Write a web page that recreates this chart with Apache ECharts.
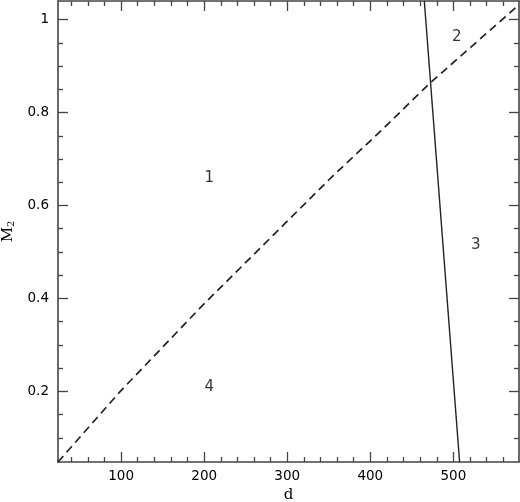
<!DOCTYPE html>
<html>
<head>
<meta charset="utf-8">
<script src="https://cdn.jsdelivr.net/npm/echarts@6/dist/echarts.min.js"></script>
<style>
html,body{margin:0;padding:0;background:#fff;}
#chart{width:520px;height:502px;}
</style>
</head>
<body>
<div id="chart"></div>
<script>
// ---- data ----
const dashD = [24, 99, 198, 354, 413, 471, 579];
const dashM = [0.048, 0.2, 0.385, 0.662, 0.761, 0.862, 1.032];
const solidD = [465, 507.5];
const solidM = [1.04, 0.048];
const regionNames = ['1', '2', '3', '4'];
const regionD = [206, 504, 527, 206];
const regionM = [0.658, 0.962, 0.514, 0.21];
// ---- axis ticks ----
const xMajor = [100, 200, 300, 400, 500];
const xMinor = [40, 60, 80, 120, 140, 160, 180, 220, 240, 260, 280, 320, 340, 360, 380, 420, 440, 460, 480, 520, 540, 560];
const yMajor = [0.2, 0.4, 0.6, 0.8, 1];
const yMinor = [0.1, 0.15, 0.25, 0.3, 0.35, 0.45, 0.5, 0.55, 0.65, 0.7, 0.75, 0.85, 0.9, 0.95];
const xRange = [24, 579];
const yRange = [0.048, 1.04];

const axisColor = '#444';
const font = 'DejaVu Sans';

function xAx(pos, ticks, len, showLine, labels, extra) {
  return Object.assign({
    type: 'value', position: pos, min: xRange[0], max: xRange[1],
    axisLine: {show: showLine, onZero: false, lineStyle: {color: axisColor, width: 1.6}},
    axisTick: {show: true, inside: true, length: len, customValues: ticks, lineStyle: {color: axisColor, width: 1.3}},
    axisLabel: labels ? {show: true, customValues: ticks, margin: 7, color: '#000', fontSize: 13.5, fontFamily: font} : {show: false},
    splitLine: {show: false}
  }, extra || {});
}
function yAx(pos, ticks, len, showLine, labels, extra) {
  return Object.assign({
    type: 'value', position: pos, min: yRange[0], max: yRange[1],
    axisLine: {show: showLine, onZero: false, lineStyle: {color: axisColor, width: 1.6}},
    axisTick: {show: true, inside: true, length: len, customValues: ticks, lineStyle: {color: axisColor, width: 1.3}},
    axisLabel: labels ? {show: true, customValues: ticks, margin: 9, color: '#000', fontSize: 13.5, fontFamily: font,
      formatter: v => String(Math.round(v * 10) / 10)} : {show: false},
    splitLine: {show: false}
  }, extra || {});
}

const chart = echarts.init(document.getElementById('chart'), null, {renderer: 'canvas'});
chart.setOption({
  animation: false,
  backgroundColor: '#fff',
  grid: {left: 58, right: 1, top: 1, bottom: 40, containLabel: false, outerBoundsMode: 'none'},
  xAxis: [
    xAx('bottom', xMajor, 10, true, true, {
      name: 'd', nameLocation: 'middle', nameGap: 25,
      nameTextStyle: {fontSize: 15, fontFamily: 'DejaVu Serif', color: '#000'}
    }),
    xAx('bottom', xMinor, 5, false, false),
    xAx('top', xMajor, 10, true, false),
    xAx('top', xMinor, 5, false, false)
  ],
  yAxis: [
    yAx('left', yMajor, 10, true, true, {
      name: 'M{s|2}', nameLocation: 'middle', nameGap: 38, nameRotate: 90,
      nameTextStyle: {fontSize: 15, fontFamily: 'DejaVu Serif', color: '#000',
        rich: {s: {fontSize: 10, fontFamily: 'DejaVu Serif', verticalAlign: 'bottom', padding: [8, 0, 0, 0], color: '#000'}}}
    }),
    yAx('left', yMinor, 5, false, false),
    yAx('right', yMajor, 10, true, false),
    yAx('right', yMinor, 5, false, false)
  ],
  series: [
    {
      type: 'line', xAxisIndex: 0, yAxisIndex: 0, symbol: 'none', silent: true,
      data: dashD.map((d, i) => [d, dashM[i]]),
      lineStyle: {color: '#222', width: 1.7, type: [8, 5]}
    },
    {
      type: 'line', xAxisIndex: 0, yAxisIndex: 0, symbol: 'none', silent: true,
      data: solidD.map((d, i) => [d, solidM[i]]),
      lineStyle: {color: '#222', width: 1.4, type: 'solid'}
    },
    {
      type: 'scatter', xAxisIndex: 0, yAxisIndex: 0, symbolSize: 1, silent: true,
      itemStyle: {color: 'rgba(0,0,0,0)'},
      data: regionNames.map((n, i) => ({name: n, value: [regionD[i], regionM[i]]})),
      label: {show: true, position: 'inside', formatter: '{b}', fontSize: 15, fontFamily: font, color: '#000'}
    }
  ]
});
</script>
</body>
</html>
